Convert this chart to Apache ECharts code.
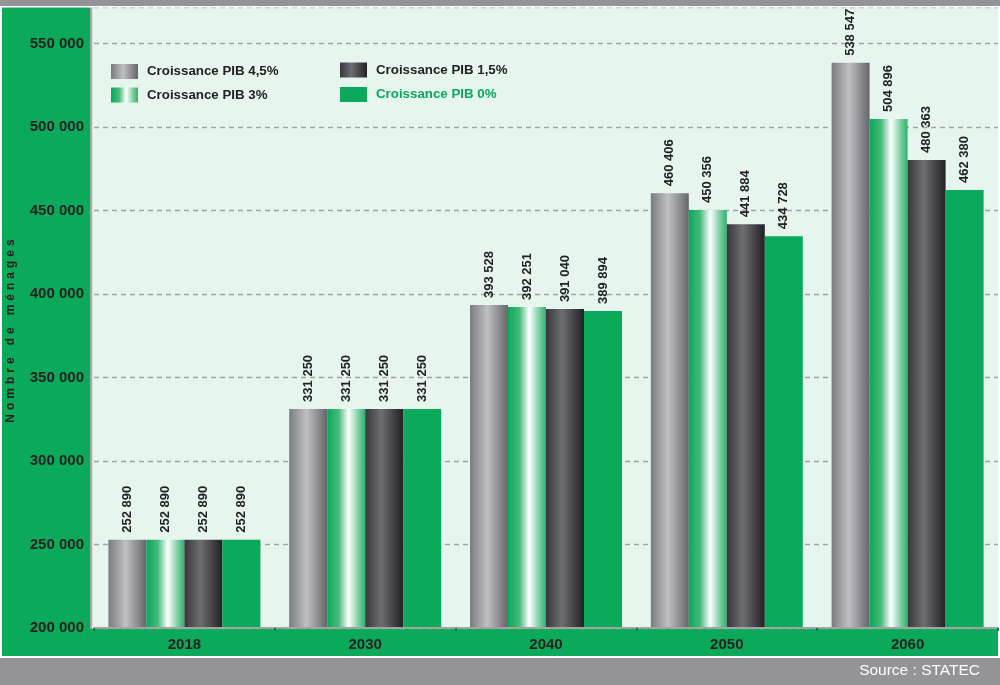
<!DOCTYPE html>
<html>
<head>
<meta charset="utf-8">
<script src="https://cdn.jsdelivr.net/npm/echarts@6/dist/echarts.min.js"></script>
<style>
  html, body { margin: 0; padding: 0; background: #ffffff; }
  #chart { width: 1000px; height: 685px; }
</style>
</head>
<body>
<div id="chart"></div>
<script>
// Nombre de ménages projeté selon le scénario de croissance du PIB
const years = ['2018', '2030', '2040', '2050', '2060'];
const pib45 = [252890, 331250, 393528, 460406, 538547];
const pib3  = [252890, 331250, 392251, 450356, 504896];
const pib15 = [252890, 331250, 391040, 441884, 480363];
const pib0  = [252890, 331250, 389894, 434728, 462380];
const seriesNames = ['Croissance PIB 4,5%', 'Croissance PIB 3%', 'Croissance PIB 1,5%', 'Croissance PIB 0%'];
const yTitle = 'Nombre de ménages';
const sourceText = 'Source : STATEC';

const FONT = '"Liberation Sans", Arial, Helvetica, sans-serif';
const GREEN = '#0aaa5a';
const MINT = '#e6f6ee';
const BAND_GREY = '#939398';
const TEXT = '#222222';

const fmt = v => String(v).replace(/\B(?=(\d{3})+(?!\d))/g, ' ');

function hGrad(stops) {
  return new echarts.graphic.LinearGradient(0, 0, 1, 0,
    stops.map(([offset, color]) => ({ offset, color })));
}

const fills = [
  hGrad([[0, '#7a7a80'], [0.45, '#bfbfc4'], [1, '#65656b']]),
  hGrad([[0, '#0aa85a'], [0.3, '#45bb7b'], [0.56, '#ffffff'], [0.8, '#86d2aa'], [1, '#2fb06c']]),
  hGrad([[0, '#38383c'], [0.42, '#6e6e72'], [1, '#212125']]),
  GREEN
];

const valueSets = [pib45, pib3, pib15, pib0];

const series = valueSets.map((vals, i) => ({
  name: seriesNames[i],
  type: 'bar',
  data: vals,
  barWidth: 38,
  barGap: '0%',
  itemStyle: { color: fills[i] },
  label: {
    show: true,
    position: 'top',
    rotate: 90,
    align: 'left',
    verticalAlign: 'middle',
    distance: 7,
    color: TEXT,
    fontFamily: FONT,
    fontWeight: 'bold',
    fontSize: 13,
    formatter: p => fmt(p.value)
  }
}));

// Axis title drawn with widened letter spacing
const spacedTitle = yTitle.split(' ')
  .map(w => w.split('').join('\u2004'))
  .join('\u2004\u2004\u2004');

const legendText = { color: TEXT, fontFamily: FONT, fontWeight: 'bold', fontSize: 13.3, padding: [0, 0, 0, 4] };

const option = {
  animation: false,
  backgroundColor: '#ffffff',
  grid: {
    left: 94, right: 2, top: 7, bottom: 57,
    show: true, backgroundColor: MINT, borderWidth: 0
  },
  legend: [
    {
      data: [seriesNames[0], seriesNames[1]],
      orient: 'vertical', left: 111, top: 64, padding: 0,
      icon: 'rect', itemWidth: 27, itemHeight: 15, itemGap: 8.5,
      textStyle: legendText
    },
    {
      data: [
        { name: seriesNames[2] },
        { name: seriesNames[3], textStyle: { color: GREEN } }
      ],
      orient: 'vertical', left: 340, top: 62.5, padding: 0,
      icon: 'rect', itemWidth: 27, itemHeight: 15, itemGap: 9.5,
      textStyle: legendText
    }
  ],
  xAxis: {
    type: 'category',
    data: years,
    axisLine: { show: true, lineStyle: { color: '#a3a3a3', width: 2 } },
    axisTick: { show: true, length: 3, lineStyle: { color: '#0b7d43', width: 2 } },
    axisLabel: { color: TEXT, fontFamily: FONT, fontWeight: 'bold', fontSize: 15, margin: 9 },
    z: 5
  },
  yAxis: {
    type: 'value',
    min: 200000,
    max: 572000,
    interval: 50000,
    axisLine: { show: false },
    axisTick: { show: true, inside: true, length: 3, lineStyle: { color: '#a8a8a8' } },
    axisLabel: {
      color: TEXT, fontFamily: FONT, fontWeight: 'bold', fontSize: 15, margin: 10,
      showMaxLabel: false,
      formatter: v => fmt(v)
    },
    splitLine: { show: true, lineStyle: { color: '#a3a3a3', type: [5, 4], width: 1.3 } }
  },
  series: series,
  graphic: [
    // left panel behind the value labels
    { type: 'rect', z: -10, shape: { x: 2, y: 7, width: 88, height: 622 }, style: { fill: GREEN } },
    // value axis line and the strip of plot background next to it
    { type: 'rect', z: -10, shape: { x: 90, y: 7, width: 2.5, height: 622 }, style: { fill: '#a8a8a8' } },
    { type: 'rect', z: -10, shape: { x: 92.5, y: 7, width: 2, height: 621 }, style: { fill: MINT } },
    // top band
    { type: 'rect', z: 100, shape: { x: 0, y: 0, width: 1000, height: 6 }, style: { fill: BAND_GREY } },
    { type: 'rect', z: 100, shape: { x: 0, y: 6, width: 1000, height: 1.6 }, style: { fill: '#ffffff' } },
    // category band under the axis
    { type: 'rect', z: -10, shape: { x: 2, y: 629, width: 996, height: 27 }, style: { fill: GREEN } },
    // footer
    { type: 'rect', z: -10, shape: { x: 0, y: 658, width: 1000, height: 27 }, style: { fill: BAND_GREY } },
    {
      type: 'text', z: 100, x: 980, y: 671,
      style: { text: sourceText, fill: '#ffffff', font: '15.5px ' + FONT, textAlign: 'right', textVerticalAlign: 'middle' }
    },
    {
      type: 'text', z: 100, x: 11, y: 331, rotation: Math.PI / 2,
      style: { text: spacedTitle, fill: TEXT, font: 'bold 12px ' + FONT, textAlign: 'center', textVerticalAlign: 'middle' }
    }
  ]
};

const chart = echarts.init(document.getElementById('chart'), null, { renderer: 'canvas' });
chart.setOption(option);
</script>
</body>
</html>
